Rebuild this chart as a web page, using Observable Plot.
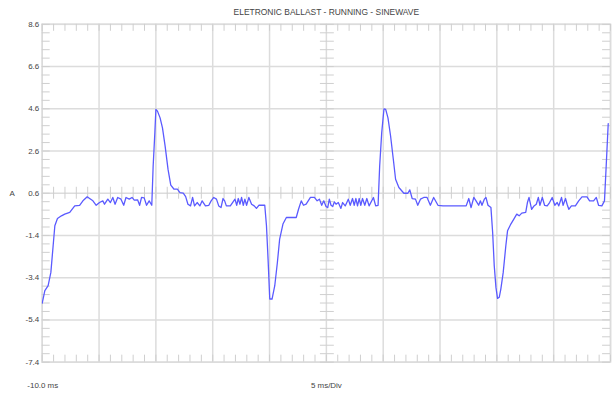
<!DOCTYPE html>
<html><head><meta charset="utf-8">
<script src="https://cdn.jsdelivr.net/npm/d3@7"></script>
<script src="https://cdn.jsdelivr.net/npm/@observablehq/plot@0.6"></script>
<style>html,body{margin:0;padding:0;background:#fff;overflow:hidden}</style>
</head><body><div id="chart"></div>
<script>
const title = "ELETRONIC BALLAST - RUNNING - SINEWAVE";
const yLabel = "A";
const xStartLabel = "-10.0 ms";
const xScaleLabel = "5 ms/Div";

const timeMs = [
  -10.00,-9.77,-9.48,-9.24,-9.04,-8.89,-8.66,-8.31,-8.02,-7.58,-7.14,-6.71,-6.42,-6.04,-5.83,-5.54,-5.25,-4.96,-4.67,-4.52,
  -4.23,-4.00,-3.79,-3.59,-3.36,-3.07,-2.83,-2.63,-2.34,-2.10,-1.90,-1.61,-1.43,-1.26,-1.03,-0.82,-0.59,-0.36,-0.24,-0.09,
  0.00,0.14,0.37,0.58,0.81,1.07,1.31,1.60,1.89,2.12,2.41,2.62,2.82,3.05,3.23,3.40,3.63,3.87,4.07,4.36,
  4.66,4.86,5.09,5.33,5.53,5.73,5.91,6.05,6.20,6.55,
  6.96,7.11,7.25,7.40,7.54,7.69,7.83,7.98,8.18,8.42,8.65,8.85,9.06,9.29,9.58,9.73,9.87,10.02,10.22,10.46,
  10.69,10.89,11.18,11.48,11.91,12.35,12.55,12.79,12.99,13.22,13.60,13.95,14.19,14.39,14.59,14.77,14.97,15.12,15.26,15.41,
  15.56,15.70,15.85,16.05,16.28,16.43,16.66,16.93,17.10,17.30,17.45,17.60,17.74,17.89,18.03,18.18,18.38,18.56,18.76,19.14,
  19.34,19.55,19.69,19.87,20.07,20.22,20.42,20.65,20.89,21.09,21.38,21.82,22.17,22.34,22.55,22.84,23.04,23.28,23.57,23.86,24.15,
  24.44,24.82,25.26,25.84,26.42,27.00,27.30,27.53,27.73,27.97,28.17,28.40,28.55,28.69,28.90,29.04,29.22,29.48,29.63,29.77,
  29.92,30.06,30.21,30.35,30.56,30.79,30.94,31.23,31.52,31.75,31.96,32.19,32.54,32.69,32.83,33.06,33.27,33.47,33.65,33.79,
  34.00,34.20,34.43,34.64,34.87,35.10,35.31,35.45,35.69,35.83,36.04,36.18,36.33,36.56,36.91,37.20,37.49,37.93,38.16,38.51,
  38.75,38.95,39.24,39.47,39.62,39.80
];
const currentA = [
  -4.60,-4.01,-3.78,-3.15,-1.89,-0.94,-0.60,-0.47,-0.39,-0.31,0.00,0.03,0.24,0.43,0.35,0.24,0.03,0.16,0.24,0.08,
  0.32,0.16,0.40,0.08,0.40,0.32,0.03,0.40,0.32,0.40,0.27,0.29,0.03,0.40,0.38,0.03,0.24,0.03,1.89,3.47,
  4.57,4.49,4.17,3.70,2.84,1.73,0.98,0.79,0.79,0.63,0.60,0.44,0.08,0.00,0.40,0.00,0.16,0.00,0.24,0.00,
  0.03,0.24,0.40,0.32,0.00,-0.08,0.35,0.24,0.00,0.00,
  0.32,0.03,0.35,0.08,0.40,0.03,0.32,0.03,0.40,0.08,0.00,-0.12,0.03,0.03,0.03,-0.94,-2.52,-4.41,-4.41,-3.78,
  -2.68,-1.57,-0.86,-0.55,-0.55,-0.55,-0.16,0.24,0.03,0.08,0.40,0.40,0.24,0.32,0.03,0.24,-0.03,-0.08,0.32,0.03,
  -0.03,0.19,0.08,0.16,-0.12,0.16,0.00,0.32,0.03,0.35,0.03,0.35,0.00,0.35,0.03,0.35,0.03,0.35,0.00,0.40,
  0.00,0.03,1.89,3.47,4.60,4.57,4.17,3.31,2.21,1.26,0.87,0.60,0.60,0.76,0.35,0.32,0.03,0.32,0.40,0.40,0.03,
  0.40,0.03,0.00,0.00,0.00,0.00,0.00,0.35,-0.08,0.40,0.24,0.03,0.24,0.03,0.32,0.40,0.03,-0.08,-1.26,-2.83,
  -3.86,-4.38,-4.33,-3.94,-3.15,-1.89,-1.18,-0.86,-0.60,-0.39,-0.47,-0.34,-0.31,0.16,0.40,-0.16,0.00,0.08,0.40,0.03,
  0.40,0.03,0.00,0.16,0.40,0.03,0.16,0.00,0.40,0.03,0.35,0.08,-0.16,0.00,0.00,0.24,0.43,0.43,0.24,0.24,
  0.40,0.03,0.00,0.24,1.89,3.90
];

const yTicks = [8.6, 6.6, 4.6, 2.6, 0.6, -1.4, -3.4, -5.4, -7.4];
const xGrid = [-10, -5, 0, 5, 10, 15, 20, 25, 30, 35, 40];
const xDomain = [-10, 40];
const yDomain = [-7.4, 8.6];
const xCenter = 15;
const yCenter = 0.6;
const xMinor = d3.range(-10, 41, 1);
const yMinor = d3.range(0, 41).map(i => +(-7.4 + 0.4 * i).toFixed(1));

const data = timeMs.map((t, i) => ({t, a: currentA[i]}));

const gridColor = "#dcdcdc";
const tickColor = "#cfcfcf";
const textColor = "#444";
const font = "'Liberation Sans', Arial, sans-serif";

const chart = Plot.plot({
  width: 616,
  height: 399,
  marginLeft: 42,
  marginRight: 2,
  marginTop: 24,
  marginBottom: 35,
  style: {fontFamily: font, fontSize: "8px", background: "#fff", overflow: "visible"},
  x: {domain: xDomain, axis: null},
  y: {domain: yDomain},
  marks: [
    Plot.gridX(xGrid, {stroke: gridColor, strokeOpacity: 1, strokeWidth: 1.5}),
    Plot.gridY(yTicks, {stroke: gridColor, strokeOpacity: 1, strokeWidth: 1.5}),
    Plot.frame({stroke: gridColor, strokeWidth: 1.5}),
    // minor ticks on the edges
    Plot.ruleX(xMinor, {y1: yDomain[1], y2: yDomain[1], insetBottom: -7, stroke: tickColor}),
    Plot.ruleX(xMinor, {y1: yDomain[0], y2: yDomain[0], insetTop: -7, stroke: tickColor}),
    Plot.ruleY(yMinor, {x1: xDomain[0], x2: xDomain[0], insetRight: -8, stroke: tickColor}),
    Plot.ruleY(yMinor, {x1: xDomain[1], x2: xDomain[1], insetLeft: -8, stroke: tickColor}),
    // center graticule ticks
    Plot.ruleX(xMinor, {y1: yCenter, y2: yCenter, insetTop: -6, insetBottom: -6, stroke: tickColor}),
    Plot.ruleY(yMinor, {x1: xCenter, x2: xCenter, insetLeft: -6, insetRight: -8, stroke: tickColor}),
    Plot.axisY(yTicks, {label: null, tickSize: 0, tickPadding: 3, tickFormat: d => d.toFixed(1), fontSize: 8, fill: textColor}),
    Plot.line(data, {x: "t", y: "a", stroke: "#5a5aff", strokeWidth: 1.3, clip: true}),
    Plot.text([title], {frameAnchor: "top", lineAnchor: "middle", dy: -12, text: d => d, fontSize: 8.5, fill: textColor}),
    Plot.text([yLabel], {frameAnchor: "left", y: yCenter, dx: -33, text: d => d, fontSize: 8, fill: textColor}),
    Plot.text([xStartLabel], {frameAnchor: "bottom-left", lineAnchor: "middle", dx: -15, dy: 23, textAnchor: "start", text: d => d, fontSize: 8, fill: textColor}),
    Plot.text([xScaleLabel], {frameAnchor: "bottom", lineAnchor: "middle", dy: 23, text: d => d, fontSize: 8, fill: textColor})
  ]
});
document.getElementById("chart").appendChild(chart);
</script>
</body></html>
